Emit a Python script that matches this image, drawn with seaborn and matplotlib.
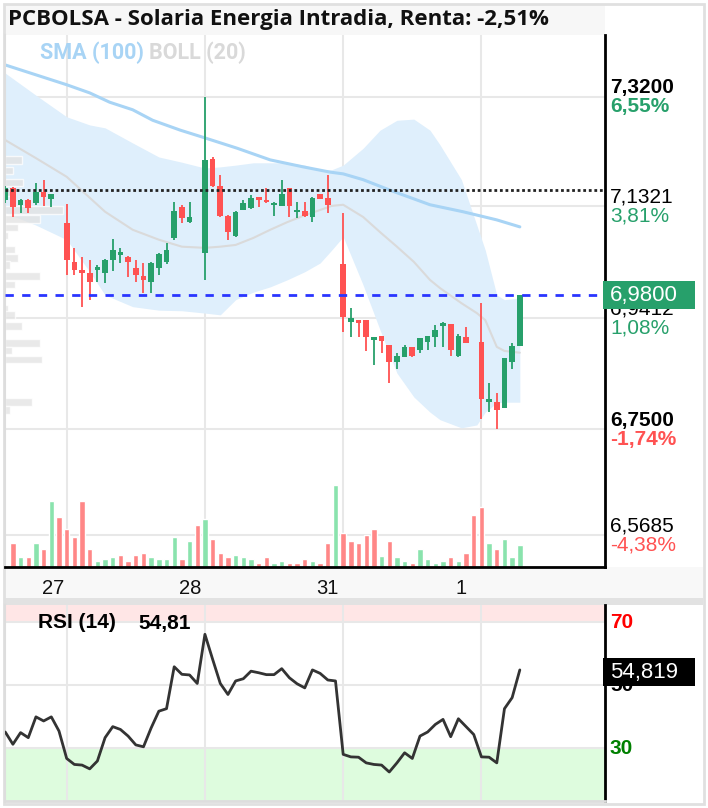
import numpy as np
import matplotlib
matplotlib.use("Agg")
import matplotlib.pyplot as plt
import matplotlib.transforms as mtransforms
from matplotlib.patches import Rectangle
import seaborn as sns

# ---------------- data ----------------
slot = list(range(68))          # 30-min slots (26 partial, 27, 28, 31, 1 partial)
day_start = [8, 26, 44, 62]
day_labels = ["27", "28", "31", "1"]
day_label_pos = [6.2, 24.1, 41.9, 59.3]

open_ = [7.143, 7.164, 7.135, 7.143, 7.138, 7.157, 7.145, 7.148,
         7.104, 7.037, 7.023, 7.018, 7.023, 7.018, 7.040, 7.049, 7.045, 7.026, 7.013, 7.002,
         7.026, 7.037, 7.078, 7.131, 7.105, 7.114,
         7.052, 7.214, 7.167, 7.116, 7.081, 7.126, 7.129, 7.148, 7.143, 7.135, 7.133, 7.164,
         7.123, 7.124, 7.114, 7.154, 7.147, 7.135,
         7.033, 6.934, 6.937, 6.937, 6.903, 6.910, 6.894, 6.865, 6.874, 6.891, 6.886, 6.900,
         6.908, 6.927, 6.930, 6.875, 6.908, 6.898,
         6.900, 6.796, 6.796, 6.786, 6.865, 6.893]
high = [7.167, 7.166, 7.145, 7.145, 7.172, 7.178, 7.154, 7.148,
        7.136, 7.061, 7.045, 7.040, 7.032, 7.042, 7.076, 7.061, 7.047, 7.040, 7.035, 7.037,
        7.052, 7.069, 7.140, 7.135, 7.140, 7.114,
        7.320, 7.217, 7.186, 7.117, 7.124, 7.143, 7.152, 7.148, 7.164, 7.140, 7.178, 7.164,
        7.140, 7.140, 7.148, 7.154, 7.186, 7.135,
        7.121, 6.958, 6.937, 6.937, 6.908, 6.910, 6.894, 6.881, 6.894, 6.891, 6.906, 6.910,
        6.929, 6.934, 6.930, 6.913, 6.925, 6.898,
        6.966, 6.829, 6.812, 6.872, 6.898, 6.980]
low = [7.138, 7.114, 7.121, 7.121, 7.135, 7.133, 7.131, 7.148,
       7.014, 7.014, 6.960, 6.972, 7.002, 7.001, 7.021, 7.035, 7.011, 7.002, 6.984, 6.984,
       7.014, 7.033, 7.075, 7.104, 7.104, 7.114,
       7.006, 7.166, 7.114, 7.075, 7.080, 7.126, 7.128, 7.131, 7.138, 7.116, 7.133, 7.114,
       7.112, 7.114, 7.105, 7.145, 7.121, 7.135,
       6.917, 6.908, 6.908, 6.884, 6.860, 6.881, 6.829, 6.853, 6.874, 6.874, 6.881, 6.886,
       6.891, 6.891, 6.875, 6.874, 6.898, 6.898,
       6.767, 6.779, 6.750, 6.786, 6.853, 6.893]
close = [7.164, 7.131, 7.143, 7.129, 7.157, 7.148, 7.154, 7.148,
         7.040, 7.023, 7.018, 7.002, 7.028, 7.040, 7.057, 7.054, 7.037, 7.014, 7.006, 7.035,
         7.051, 7.057, 7.124, 7.112, 7.114, 7.114,
         7.212, 7.167, 7.116, 7.088, 7.123, 7.138, 7.147, 7.143, 7.139, 7.138, 7.154, 7.133,
         7.126, 7.116, 7.147, 7.145, 7.135, 7.135,
         6.942, 6.941, 6.932, 6.908, 6.908, 6.901, 6.865, 6.875, 6.891, 6.875, 6.906, 6.910,
         6.920, 6.932, 6.886, 6.910, 6.898, 6.898,
         6.802, 6.802, 6.783, 6.872, 6.893, 6.980]

volume = [0, 24, 10, 10, 24, 18, 66, 50,
          38, 30, 66, 18, 6, 8, 10, 12, 6, 12, 14, 10, 8, 8, 30, 8, 26, 42,
          48, 28, 14, 10, 12, 10, 8, 4, 10, 4, 6, 4, 4, 8, 6, 4, 24, 82,
          34, 26, 24, 32, 38, 11, 26, 10, 6, 4, 18, 8, 4, 6, 10, 6, 14, 52,
          60, 24, 18, 28, 10, 22]
volume_up = [1, 0, 1, 0, 1, 0, 1, 0,
             0, 0, 0, 0, 1, 1, 1, 0, 0, 0, 0, 1, 1, 1, 1, 0, 1, 0,
             1, 0, 0, 0, 1, 1, 1, 0, 0, 1, 1, 0, 0, 0, 1, 0, 0, 1,
             0, 0, 0, 0, 0, 1, 0, 1, 1, 0, 1, 1, 1, 1, 0, 1, 0, 0,
             0, 1, 0, 1, 1, 1]

rsi = [35.1, 31.2, 34.9, 33.3, 39.9, 38.6, 39.9, 35.4,
       26.7, 24.8, 24.6, 23.4, 25.9, 33.3, 36.8, 35.9, 33.8, 31.0, 30.4, 36.4, 41.7, 42.5,
       55.8, 53.4, 53.2, 50.5,
       66.1, 58.2, 50.5, 47.0, 51.3, 52.0, 54.4, 53.9, 53.3, 53.3, 55.2, 52.3, 50.4, 49.1,
       54.8, 53.7, 51.6, 51.3,
       28.0, 27.2, 27.1, 25.3, 24.8, 24.6, 22.4, 25.3, 28.5, 26.7, 33.8, 35.1, 37.5, 39.1,
       33.6, 39.3, 36.8, 34.3,
       27.2, 27.1, 25.3, 42.5, 46.0, 54.8]

sma_k = [0, 8, 11, 13.6, 16.6, 19.2, 22.8, 25.7, 30.2, 34.5, 38.8, 42.3, 44, 46.6, 50.1,
         55.3, 59.6, 64, 67]
sma_v = [7.375, 7.341, 7.327, 7.311, 7.298, 7.280, 7.263, 7.251, 7.232, 7.212, 7.200,
         7.191, 7.188, 7.178, 7.160, 7.135, 7.123, 7.109, 7.097]

bb_k = [0, 4, 8, 11, 13, 16.6, 20, 23, 26, 28, 30, 32.3, 34.5, 36.7, 39, 41, 42.5, 44,
        46.6, 48.8, 51, 53.2, 55.3, 56.6, 59.4, 61.4, 62.5, 64, 65, 67]
bb_upper = [7.361, 7.323, 7.286, 7.272, 7.267, 7.241, 7.217, 7.208, 7.198, 7.200, 7.203,
            7.207, 7.207, 7.207, 7.203, 7.195, 7.195, 7.203, 7.232, 7.263, 7.280, 7.282,
            7.263, 7.238, 7.178, 7.100, 7.057, 6.980, 6.972, 6.975]
bb_mid = [7.246, 7.215, 7.183, 7.147, 7.123, 7.092, 7.075, 7.063, 7.061, 7.063, 7.066,
          7.078, 7.092, 7.105, 7.117, 7.126, 7.133, 7.135, 7.114, 7.088, 7.063, 7.037,
          7.006, 6.992, 6.966, 6.949, 6.937, 6.891, 6.884, 6.881]
bb_lower = [7.121, 7.100, 7.075, 7.020, 6.980, 6.960, 6.954, 6.953, 6.949, 6.946, 6.972,
            6.985, 6.994, 7.006, 7.020, 7.035, 7.057, 7.080, 6.997, 6.920, 6.846, 6.805,
            6.779, 6.766, 6.752, 6.757, 6.779, 6.795, 6.796, 6.796]

vp_price = [7.212, 7.194, 7.173, 7.156, 7.126, 7.111, 7.096, 7.082, 7.058, 7.044, 7.032,
            7.013, 6.998, 6.957, 6.946, 6.927, 6.898, 6.885, 6.869, 6.796, 6.783]
vp_volume = [17, 8, 18, 10, 58, 35, 13, 3, 10, 13, 5, 35, 10, 3, 10, 17, 35, 7, 37, 27, 5]

prev_close = 7.16
last_price = 6.98
last_rsi = 54.819

price_levels = [7.32, 7.1321, 6.9412, 6.75, 6.5685]
price_texts = ["7,3200", "7,1321", "6,9412", "6,7500", "6,5685"]
pct_texts = ["6,55%", "3,81%", "1,08%", "-1,74%", "-4,38%"]
level_bold = [True, False, False, True, False]

title = "PCBOLSA - Solaria Energia Intradia, Renta: -2,51%"

# ---------------- style ----------------
sns.set_theme(style="white")
plt.rcParams["font.family"] = ["Liberation Sans", "DejaVu Sans"]

GREEN = "#27a06b"
RED = "#ff5252"
VGREEN = "#8ae3ad"
VRED = "#ff8787"
GRID = "#e8e8e8"

W, H = 708, 808
fig = plt.figure(figsize=(W / 100, H / 100), dpi=100)
fig.patch.set_facecolor("white")


def fx(px):
    return px / W


def fy(py):
    return 1 - py / H


# background bands (title strip, date strip, separator, frame) - behind the axes
fig.patches.append(Rectangle((fx(5), fy(35)), fx(600), 30 / H, transform=fig.transFigure,
                             fc="#f7f7f7", ec="none", zorder=-2))
fig.patches.append(Rectangle((fx(5), fy(598)), fx(698), 31 / H, transform=fig.transFigure,
                             fc="#f8f8f8", ec="none", zorder=-2))
fig.patches.append(Rectangle((fx(5), fy(605)), fx(698), 7 / H, transform=fig.transFigure,
                             fc="#e2e2e2", ec="none", zorder=-2))
fig.patches.append(Rectangle((fx(4), fy(804)), fx(700), 800 / H, transform=fig.transFigure,
                             fc="none", ec="#e0e0e0", lw=2, zorder=-1))

XL = (-0.03, 78.09)
YL = (6.5131, 7.4264)

ax = fig.add_axes([fx(5), fy(567), 600 / W, 532 / H])
axr = fig.add_axes([fx(5), fy(801), 600 / W, 196 / H])

# ---- main price panel ----
ax.set_facecolor("white")
for p in price_levels:
    ax.axhline(p, color=GRID, lw=1.5, zorder=0.5)
for d in day_start:
    ax.axvline(d, color=GRID, lw=1.5, zorder=0.5)

ax.fill_between(bb_k, bb_lower, bb_upper, color="#dfeffc", lw=0, zorder=1)
ax.barh(vp_price, np.array(vp_volume) / 7.68, left=XL[0], height=0.013,
        color="#e2e2e2", alpha=0.75, zorder=1.5)
sns.lineplot(x=bb_k, y=bb_mid, ax=ax, color="#dadada", lw=1.5, zorder=2)
sns.lineplot(x=sma_k, y=sma_v, ax=ax, color="#a8d4f5", lw=2.2, zorder=2)

vcols = [VGREEN if u else VRED for u in volume_up]
ax.bar(slot, np.array(volume) / 532.0, width=0.7, bottom=0, color=vcols,
       transform=ax.get_xaxis_transform(), zorder=2.5)

o = np.array(open_); c = np.array(close); h = np.array(high); l = np.array(low)
ccols = [GREEN if cc >= oo else RED for oo, cc in zip(o, c)]
ax.vlines(slot, l, h, colors=ccols, lw=1.3, zorder=3)
ax.bar(slot, np.abs(c - o), bottom=np.minimum(o, c), width=0.74, color=ccols, lw=0, zorder=4)

ax.axhline(prev_close, color="#222222", lw=2, ls=(0, (1, 1)), zorder=5)
ax.axhline(last_price, color="#2a35ff", lw=2, ls=(0, (3, 3)), zorder=5)

ax.set_xlim(XL)
ax.set_ylim(YL)
ax.set_yticks([])
ax.set_xticks(day_label_pos)
ax.set_xticklabels(day_labels, fontsize=14.5, color="#111111")
ax.tick_params(axis="x", length=0, pad=9, labelbottom=True)
ax.set_xlabel("")
ax.set_ylabel("")
ax.spines["top"].set_visible(False)
ax.spines["left"].set_color("#dddddd")
ax.spines["left"].set_linewidth(1.5)
ax.spines["right"].set_color("black")
ax.spines["right"].set_linewidth(2)
ax.spines["bottom"].set_color("black")
ax.spines["bottom"].set_linewidth(2)

blend = mtransforms.blended_transform_factory(ax.transAxes, ax.transData)
for p, t, pct, b in zip(price_levels, price_texts, pct_texts, level_bold):
    up = mtransforms.offset_copy(blend, fig=fig, x=5, y=9, units="dots")
    dn = mtransforms.offset_copy(blend, fig=fig, x=5, y=-10, units="dots")
    ax.text(1, p, t, transform=up, ha="left", va="center", fontsize=15,
            fontweight="bold" if b else "normal", color="black", clip_on=False)
    pc = GREEN if not pct.startswith("-") else RED
    ax.text(1, p, pct, transform=dn, ha="left", va="center", fontsize=15,
            fontweight="bold" if b else "normal", color=pc, clip_on=False)

# current price box (covers the 6,9412 label, as in the source)
bh = 14 / 582.5
ax.add_patch(Rectangle((1 - 2 / 600, last_price - bh), 92 / 600, 2 * bh, transform=blend,
                       fc=GREEN, ec="none", clip_on=False, zorder=10))
ax.text(1, last_price, "6,9800", transform=mtransforms.offset_copy(blend, fig=fig, x=5, y=0, units="dots"),
        ha="left", va="center", fontsize=16, color="white", clip_on=False, zorder=11)

# ---- RSI panel ----
RL = (13.2, 75.4)
axr.set_xlim(XL)
axr.set_ylim(RL)
axr.axhspan(70, RL[1], color="#ffe6e6", lw=0, zorder=0)
axr.axhspan(RL[0], 30, color="#defcde", lw=0, zorder=0)
for v in [70, 50, 30]:
    axr.axhline(v, color=GRID, lw=1.5, zorder=0.5)
for d in day_start:
    axr.axvline(d, color=GRID, lw=1.5, zorder=0.5)
sns.lineplot(x=slot, y=rsi, ax=axr, color="#333333", lw=2, zorder=3)
axr.set_xticks([])
axr.set_yticks([])
axr.set_xlabel("")
axr.set_ylabel("")
axr.spines["top"].set_visible(False)
axr.spines["left"].set_color("#dddddd")
axr.spines["left"].set_linewidth(1.5)
axr.spines["bottom"].set_color("#dddddd")
axr.spines["bottom"].set_linewidth(2)
axr.spines["right"].set_color("black")
axr.spines["right"].set_linewidth(2)

rblend = mtransforms.blended_transform_factory(axr.transAxes, axr.transData)
roff = mtransforms.offset_copy(rblend, fig=fig, x=5, y=0, units="dots")
axr.text(1, 70, "70", transform=roff, ha="left", va="center", fontsize=15,
         fontweight="bold", color="#ff0000", clip_on=False)
axr.text(1, 50, "50", transform=roff, ha="left", va="center", fontsize=15,
         fontweight="bold", color="black", clip_on=False)
axr.text(1, 30, "30", transform=roff, ha="left", va="center", fontsize=15,
         fontweight="bold", color="#008000", clip_on=False)
rbh = 14 / 3.15
box_c = last_rsi - 0.7
axr.add_patch(Rectangle((1 - 2 / 600, box_c - rbh), 92 / 600, 2 * rbh, transform=rblend,
                        fc="black", ec="none", clip_on=False, zorder=10))
axr.text(1, box_c, "54,819", transform=roff, ha="left", va="center", fontsize=16,
         color="white", clip_on=False, zorder=11)

# ---- header texts ----
fig.text(fx(8), fy(20), title, ha="left", va="center", fontsize=16,
         family=["Open Sans", "DejaVu Sans"], fontweight="bold", color="#111111")
t1 = fig.text(fx(40), fy(53), "SMA (100) ", ha="left", va="center", fontsize=15.5,
              family=["Roboto", "DejaVu Sans"], fontweight="bold", color="#a8d4f5")
fig.canvas.draw()
bb = t1.get_window_extent()
fig.text(bb.x1 / W, fy(53), "BOLL (20)", ha="left", va="center", fontsize=15.5,
         family=["Roboto", "DejaVu Sans"], fontweight="bold", color="#d9d9d9")
fig.text(fx(38), fy(623), "RSI (14)", ha="left", va="center", fontsize=15,
         fontweight="bold", color="black")
fig.text(fx(138), fy(623), "54,81", ha="left", va="center", fontsize=15,
         fontweight="bold", color="black")

fig.savefig("out.png", dpi=100)
